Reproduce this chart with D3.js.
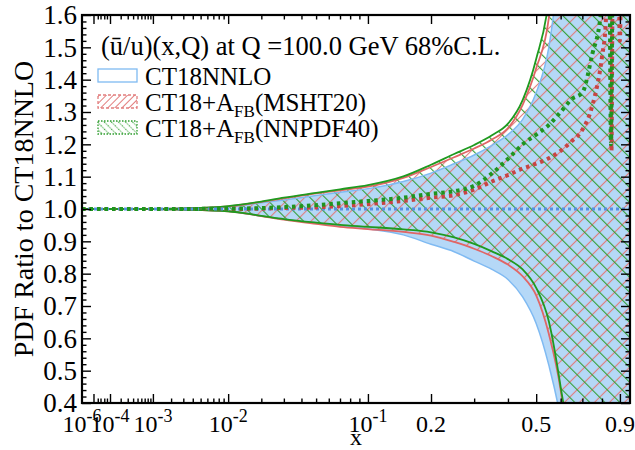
<!DOCTYPE html>
<html><head><meta charset="utf-8">
<script src="https://cdn.jsdelivr.net/npm/d3@7"></script>
<style>
body{margin:0;background:#fff}
svg{display:block}
text{font-family:"Liberation Serif","Times New Roman",serif;fill:#000}
</style>
</head><body>
<svg id="c" width="635" height="450"></svg>
<script>
// ---------------- data ----------------
const xGrid = [1e-6, 1e-5, 1e-4, 1e-3, 0.003, 0.01, 0.02, 0.03, 0.05, 0.07, 0.1, 0.15, 0.2, 0.25, 0.3, 0.35, 0.4, 0.45, 0.5, 0.55, 0.6, 0.65, 0.7, 0.75, 0.8, 0.85, 0.9, 0.96];
// CT18NNLO band (ratio to itself)
const ctHi = [1,1,1,1.0005,1.002,1.007,1.019,1.028,1.042,1.052,1.063,1.085,1.111,1.14,1.167,1.197,1.23,1.277,1.36,1.50,1.8,2.2,2.8,3.5,4,4.5,5,5];
const ctLo = [1,1,1,0.9995,0.998,0.993,0.978,0.968,0.956,0.948,0.939,0.92,0.891,0.868,0.839,0.813,0.782,0.728,0.646,0.517,0.35,0.1,-0.3,-0.8,-1.3,-1.8,-2,-2];
// CT18+AFB(MSHT20) band
const msHi = [1,1,1,1.0005,1.002,1.008,1.022,1.033,1.048,1.058,1.069,1.096,1.13,1.16,1.187,1.215,1.25,1.322,1.435,1.59,2.0,2.6,3.2,3.8,4.3,4.8,5,5];
const msLo = [1,1,1,0.9995,0.998,0.993,0.978,0.967,0.954,0.945,0.938,0.929,0.918,0.898,0.877,0.854,0.828,0.792,0.733,0.614,0.44,0.15,-0.3,-0.8,-1.3,-1.8,-2,-2];
// CT18+AFB(NNPDF40) band
const nnHi = [1,1,1,1.0005,1.002,1.009,1.023,1.035,1.05,1.061,1.074,1.101,1.137,1.17,1.198,1.228,1.264,1.337,1.464,1.65,2.1,2.7,3.3,3.9,4.4,4.9,5,5];
const nnLo = [1,1,1,0.9995,0.998,0.993,0.979,0.969,0.958,0.951,0.945,0.937,0.928,0.912,0.892,0.869,0.845,0.813,0.756,0.653,0.45,0.2,-0.3,-0.8,-1.3,-1.8,-2,-2];
// central values
const ctCX = [1e-6, 0.96];
const ctCY = [1, 1];
const msCX = [1e-6, 1e-3, 0.01, 0.02, 0.03, 0.05, 0.07, 0.1, 0.15, 0.2, 0.25, 0.3, 0.35, 0.4, 0.45, 0.5, 0.55, 0.6, 0.65, 0.7, 0.75, 0.8, 0.82, 0.835, 0.846, 0.852, 0.857, 0.868, 0.893, 0.9, 0.906];
const msCY = [1, 1, 1.0, 1.001, 1.003, 1.005, 1.009, 1.015, 1.025, 1.035, 1.043, 1.06, 1.085, 1.105, 1.125, 1.14, 1.157, 1.18, 1.21, 1.245, 1.32, 1.47, 1.57, 1.9, 1.6, 1.18, 1.6, 2.2, 1.75, 1.52, 1.75];
const nnCX = [1e-6, 1e-3, 0.01, 0.02, 0.03, 0.05, 0.07, 0.1, 0.15, 0.2, 0.25, 0.3, 0.35, 0.4, 0.45, 0.5, 0.55, 0.6, 0.65, 0.7, 0.75, 0.79, 0.81, 0.83, 0.843, 0.849, 0.856, 0.866];
const nnCY = [1, 1, 1.001, 1.003, 1.006, 1.012, 1.018, 1.025, 1.035, 1.047, 1.055, 1.072, 1.11, 1.155, 1.2, 1.23, 1.26, 1.3, 1.34, 1.36, 1.48, 1.585, 1.7, 2.0, 1.6, 1.2, 1.6, 2.2];

const yTickVals = [0.4,0.5,0.6,0.7,0.8,0.9,1.0,1.1,1.2,1.3,1.4,1.5,1.6];
const xTickVals = [1e-6, 1e-4, 1e-3, 1e-2, 0.1, 0.2, 0.5, 0.9];
const xTickBase = ["10","10","10","10","10","0.2","0.5","0.9"];
const xTickSup  = ["-6","-4","-3","-2","-1","","",""];
const xMajorTicks = [1e-5, 1e-4, 1e-3, 1e-2, 0.1, 0.2, 0.5, 0.9];
const xMinorTicks = [2e-5,3e-5,5e-5,7e-5, 2e-4,3e-4,4e-4,5e-4,6e-4,7e-4,8e-4,9e-4, 2e-3,3e-3,4e-3,5e-3,6e-3,7e-3,8e-3,9e-3, 0.02,0.03,0.04,0.05,0.06,0.07,0.08,0.09, 0.3,0.4,0.6,0.7,0.8];
const legendTitle = "(ū/u)(x,Q) at Q =100.0 GeV 68%C.L.";
const legendNames = [["CT18NNLO","",""],["CT18+A","FB","(MSHT20)"],["CT18+A","FB","(NNPDF40)"]];
const yTitle = "PDF Ratio to CT18NNLO";
const xTitle = "x";

// ---------------- layout ----------------
const pl = 82, pr = 630, pt = 15, pb = 403;
const svg = d3.select("#c");
const tf = v => Math.pow(v, 0.3) + 0.0201 * Math.log10(v);
const xs = d3.scaleLinear().domain([tf(1e-6), tf(1e-4), tf(0.96)]).range([pl, pl + 0.0511 * (pr - pl), pr]);
const X = v => xs(tf(v));
const y = d3.scaleLinear().domain([0.4, 1.6]).range([pb, pt]);

const defs = svg.append("defs");
defs.append("clipPath").attr("id","clip").append("rect")
  .attr("x",pl).attr("y",pt).attr("width",pr-pl).attr("height",pb-pt);
function hatch(id, color, angle, sp, sw, dash){
  const p = defs.append("pattern").attr("id",id).attr("patternUnits","userSpaceOnUse")
    .attr("width",sp).attr("height",sp).attr("patternTransform",`rotate(${angle})`);
  const l = p.append("line").attr("x1",sp/2).attr("x2",sp/2).attr("y1",0).attr("y2",sp)
    .attr("stroke",color).attr("stroke-width",sw);
  if (dash) l.attr("stroke-dasharray",dash);
}
const cBlueFill = "#b5d8f7", cBlueEdge = "#7fbaf2", cBlueDot = "#5590e2";
const cRed = "#e06666", cRedHatch = "#e27d7d", cRedDot = "#c84444";
const cGreen = "#1f9a1f", cGreenHatch = "#2f9d2f", cGreenDot = "#1f941f";
hatch("hR", cRedHatch, 45, 10.6, 1.1);
hatch("hG", cGreenHatch, -45, 10.6, 1.1);
hatch("hRs", cRedHatch, 45, 5, 1);
hatch("hGs", cGreenHatch, -45, 5, 1.2, "1.2 1.2");

const plot = svg.append("g").attr("clip-path","url(#clip)");
function band(hi, lo){
  return d3.area().curve(d3.curveMonotoneX)
    .x((d,i)=>X(xGrid[i])).y0((d,i)=>y(lo[i])).y1((d,i)=>y(hi[i]))(xGrid);
}
function edge(vals, xv){
  xv = xv || xGrid;
  return d3.line().curve(d3.curveMonotoneX).x((d,i)=>X(xv[i])).y((d,i)=>y(vals[i]))(vals);
}
plot.append("path").attr("d",band(ctHi,ctLo)).attr("fill",cBlueFill);
plot.append("path").attr("d",band(msHi,msLo)).attr("fill","url(#hR)");
plot.append("path").attr("d",band(nnHi,nnLo)).attr("fill","url(#hG)");
[[ctHi,cBlueEdge,1.5],[ctLo,cBlueEdge,1.5],[msHi,cRed,1.8],[msLo,cRed,1.8],[nnHi,cGreen,1.8],[nnLo,cGreen,1.8]]
  .forEach(([v,c,w])=>plot.append("path").attr("d",edge(v)).attr("fill","none").attr("stroke",c).attr("stroke-width",w));
plot.append("path").attr("d",edge(ctCY,ctCX)).attr("fill","none").attr("stroke",cBlueDot).attr("stroke-width",3).attr("stroke-dasharray","3 3");
plot.append("path").attr("d",edge(msCY,msCX)).attr("fill","none").attr("stroke",cRedDot).attr("stroke-width",4).attr("stroke-dasharray","3.5 4");
plot.append("path").attr("d",edge(nnCY,nnCX)).attr("fill","none").attr("stroke",cGreenDot).attr("stroke-width",4).attr("stroke-dasharray","3.5 4");

// ---------------- axes ----------------
function styleAxis(g){ g.select(".domain").remove(); g.selectAll("line").attr("stroke","#000").attr("stroke-width",1.4); }
const yMinor = d3.range(0.42, 1.6, 0.02).filter(v => Math.abs(Math.round(v*10)-v*10) > 0.05);
const xMaj = xMajorTicks.map(tf), xMin = xMinorTicks.map(tf);
svg.append("g").attr("transform",`translate(0,${pb})`).call(d3.axisBottom(xs).tickValues(xMaj).tickSizeInner(-9).tickSizeOuter(0).tickFormat("")).call(styleAxis);
svg.append("g").attr("transform",`translate(0,${pb})`).call(d3.axisBottom(xs).tickValues(xMin).tickSizeInner(-4.5).tickSizeOuter(0).tickFormat("")).call(styleAxis);
svg.append("g").attr("transform",`translate(0,${pt})`).call(d3.axisTop(xs).tickValues(xMaj).tickSizeInner(-9).tickSizeOuter(0).tickFormat("")).call(styleAxis);
svg.append("g").attr("transform",`translate(0,${pt})`).call(d3.axisTop(xs).tickValues(xMin).tickSizeInner(-4.5).tickSizeOuter(0).tickFormat("")).call(styleAxis);
svg.append("g").attr("transform",`translate(${pl},0)`).call(d3.axisLeft(y).tickValues(yTickVals).tickSizeInner(-9).tickSizeOuter(0).tickFormat("")).call(styleAxis);
svg.append("g").attr("transform",`translate(${pl},0)`).call(d3.axisLeft(y).tickValues(yMinor).tickSizeInner(-4.5).tickSizeOuter(0).tickFormat("")).call(styleAxis);
svg.append("g").attr("transform",`translate(${pr},0)`).call(d3.axisRight(y).tickValues(yTickVals).tickSizeInner(-9).tickSizeOuter(0).tickFormat("")).call(styleAxis);
svg.append("g").attr("transform",`translate(${pr},0)`).call(d3.axisRight(y).tickValues(yMinor).tickSizeInner(-4.5).tickSizeOuter(0).tickFormat("")).call(styleAxis);
svg.append("rect").attr("x",pl).attr("y",pt).attr("width",pr-pl).attr("height",pb-pt)
  .attr("fill","none").attr("stroke","#000").attr("stroke-width",2.2);

// y tick labels
svg.append("g").selectAll("text").data(yTickVals).join("text")
  .attr("x",77).attr("y",d=>y(d)).attr("dy","0.35em").attr("text-anchor","end")
  .attr("font-size",27).text(d=>d.toFixed(1));
// x tick labels
const xl = svg.append("g").selectAll("text").data(xTickVals).join("text")
  .attr("x",d=>X(d)).attr("y",432).attr("text-anchor","middle").attr("font-size",24);
xl.append("tspan").text((d,i)=>xTickBase[i]);
xl.append("tspan").attr("font-size",18).attr("dy",-10).text((d,i)=>xTickSup[i]);

// axis titles
svg.append("text").attr("transform",`translate(33,${(pt+pb)/2}) rotate(-90)`)
  .attr("text-anchor","middle").attr("font-size",28).text(yTitle);
svg.append("text").attr("x",(pl+pr)/2).attr("y",445).attr("text-anchor","middle").attr("font-size",24).text(xTitle);

// ---------------- legend ----------------
const lg = svg.append("g");
lg.append("text").attr("x",101).attr("y",55).attr("font-size",26.5).text(legendTitle);
const rowY = [85, 111, 137];
const swFill = ["#fff","url(#hRs)","url(#hGs)"];
const swStroke = [cBlueEdge, cRedHatch, cGreenHatch];
const swDash = [null, "3 2", "1.5 1.5"];
legendNames.forEach((nm,i)=>{
  const r = lg.append("rect").attr("x",98).attr("y",rowY[i]-16).attr("width",39).attr("height",13)
    .attr("fill",swFill[i]).attr("stroke",swStroke[i]).attr("stroke-width",1.3);
  if (swDash[i]) r.attr("stroke-dasharray",swDash[i]);
  const t = lg.append("text").attr("x",145).attr("y",rowY[i]).attr("font-size",25);
  t.append("tspan").text(nm[0]);
  if (nm[1]) {
    t.append("tspan").attr("font-size",17).attr("dy",6).text(nm[1]);
    t.append("tspan").attr("dy",-6).text(nm[2]);
  }
});
</script>
</body></html>
